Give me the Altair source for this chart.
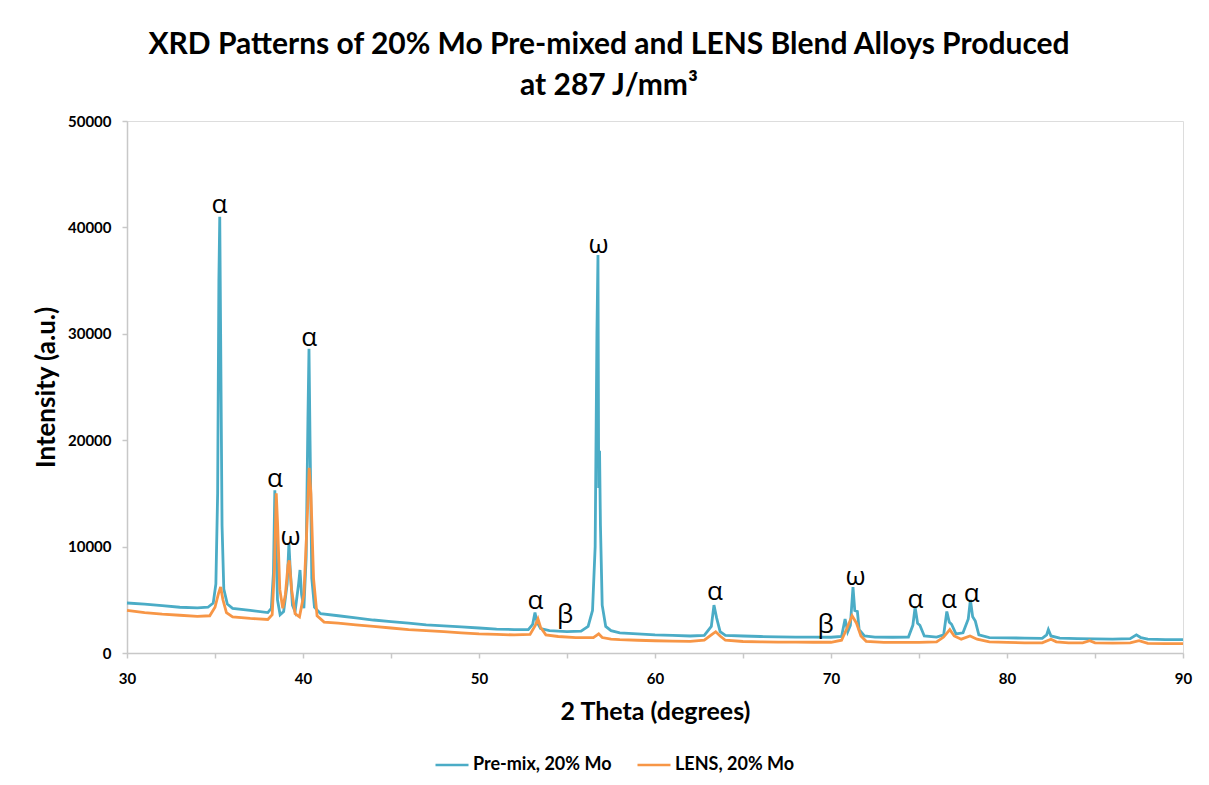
import altair as alt
import pandas as pd

# ---- data ----
premix_2theta = [30.0, 31.0, 32.0, 33.0, 34.0, 34.6, 34.9, 35.05, 35.15, 35.22, 35.27, 35.32, 35.40, 35.50, 35.70,
                 36.0, 37.0, 38.0, 38.2, 38.32, 38.40, 38.46, 38.55, 38.7, 38.9, 39.1, 39.2, 39.27, 39.4, 39.55,
                 39.75, 39.83, 39.92, 40.05, 40.18, 40.28, 40.34, 40.40, 40.50, 40.65, 41.0, 42.0, 43.0, 44.0,
                 45.0, 46.0, 47.0, 48.0, 49.0, 50.0, 51.0, 52.0, 52.8, 53.05, 53.18, 53.3, 53.5, 54.0, 55.0, 55.8,
                 56.2, 56.45, 56.6, 56.70, 56.76, 56.80, 56.85, 56.90, 57.0, 57.2, 57.5, 58.0, 59.0, 60.0, 61.0,
                 62.0, 62.8, 63.2, 63.35, 63.5, 63.7, 64.0, 65.0, 66.0, 67.0, 68.0, 69.0, 70.0, 70.6, 70.8, 70.95,
                 71.1, 71.25, 71.35, 71.5, 71.6, 71.9, 72.5, 73.5, 74.4, 74.65, 74.78, 74.92, 75.05, 75.3, 76.0,
                 76.4, 76.58, 76.72, 76.85, 77.1, 77.5, 77.8, 77.92, 78.05, 78.2, 78.4, 79.0, 80.0, 81.0, 82.0,
                 82.25, 82.35, 82.5, 83.0, 84.0, 85.0, 86.0, 87.0, 87.35, 87.6, 88.0, 89.0, 90.0]
premix_intensity = [4700, 4600, 4450, 4300, 4250, 4300, 4700, 6500, 15000, 35000, 41000, 30000, 12000, 6000, 4600,
                    4200, 4000, 3800, 4200, 7500, 15300, 11000, 5000, 3600, 3900, 6500, 10300, 8000, 4500, 3900,
                    6500, 7800, 5500, 4200, 9000, 22000, 28600, 20000, 7000, 4300, 3700, 3500, 3300, 3100,
                    2950, 2800, 2650, 2550, 2450, 2350, 2250, 2200, 2200, 2700, 3800, 2900, 2300, 2100, 2000, 2050,
                    2500, 4000, 10000, 30000, 37400, 15500, 19000, 12000, 4500, 2500, 2100, 1900, 1800, 1700, 1650,
                    1600, 1650, 2500, 4500, 3300, 2000, 1650, 1600, 1550, 1520, 1500, 1500, 1480, 1550, 3200, 2000,
                    2600, 6200, 4000, 3900, 2200, 1600, 1500, 1480, 1500, 2600, 4300, 2800, 2600, 1600, 1500,
                    1700, 3900, 2900, 2700, 1800, 1900, 3200, 5000, 3400, 3000, 1700, 1450, 1420, 1400, 1380,
                    1700, 2200, 1600, 1400, 1350, 1320, 1300, 1350, 1700, 1450, 1300, 1250, 1250]

lens_2theta = [30.0, 31.0, 32.0, 33.0, 34.0, 34.7, 35.0, 35.2, 35.32, 35.45, 35.65, 36.0, 37.0, 38.0, 38.25, 38.38,
               38.48, 38.56, 38.68, 38.85, 39.0, 39.15, 39.22, 39.35, 39.55, 39.8, 40.05, 40.2, 40.35, 40.45,
               40.6, 40.8, 41.2, 42.0, 43.0, 44.0, 45.0, 46.0, 47.0, 48.0, 49.0, 50.0, 51.0, 52.0, 52.9, 53.2,
               53.35, 53.5, 53.8, 54.5, 55.5, 56.5, 56.8, 57.0, 57.5, 58.0, 59.0, 60.0, 61.0, 62.0, 62.8, 63.2,
               63.45, 63.7, 64.0, 65.0, 66.0, 67.0, 68.0, 69.0, 70.0, 70.6, 70.9, 71.2, 71.45, 71.7, 72.0, 73.0,
               74.0, 75.0, 76.0, 76.4, 76.75, 77.0, 77.4, 77.9, 78.3, 79.0, 80.0, 81.0, 82.0, 82.5, 82.8, 83.5,
               84.3, 84.7, 85.0, 86.0, 87.0, 87.5, 88.0, 89.0, 90.0]
lens_intensity = [4000, 3800, 3650, 3550, 3450, 3500, 4300, 5600, 6200, 5000, 3800, 3400, 3250, 3150, 3600, 8000,
                  15000, 12000, 6000, 4200, 5500, 8300, 8700, 6000, 3700, 3400, 5500, 11000, 17400, 15000,
                  7000, 3500, 2900, 2800, 2650, 2500, 2350, 2200, 2100, 2000, 1900, 1800, 1750, 1700, 1750, 2600,
                  3200, 2400, 1700, 1550, 1450, 1450, 1800, 1450, 1300, 1250, 1200, 1150, 1120, 1100, 1200, 1700,
                  2000, 1600, 1200, 1080, 1050, 1030, 1020, 1010, 1010, 1200, 2300, 3500, 2800, 1600, 1100, 1000,
                  1000, 1000, 1050, 1500, 2200, 1600, 1300, 1600, 1300, 1050, 1000, 950, 950, 1300, 1050, 950,
                  950, 1150, 950, 930, 950, 1150, 900, 880, 880]

series_names = ["Pre-mix, 20% Mo", "LENS, 20% Mo"]
series_colors = ["#4bacc6", "#f79646"]

x_ticks = [30, 35, 40, 45, 50, 55, 60, 65, 70, 75, 80, 85, 90]
y_ticks = [0, 10000, 20000, 30000, 40000, 50000]

label_text = ["α", "α", "ω", "α", "α", "β", "ω", "α", "β", "ω", "α", "α", "α"]
label_2theta = [35.25, 38.4, 39.3, 40.35, 53.2, 54.9, 56.8, 63.4, 69.7, 71.4, 74.8, 76.7, 78.0]
label_intensity = [42100, 16400, 10900, 29600, 4900, 3570, 38350, 5700, 2630, 7140, 5000, 5000, 5550]

# ---- tables ----
df = pd.concat([
    pd.DataFrame({"two_theta": premix_2theta, "intensity": premix_intensity, "series": series_names[0]}),
    pd.DataFrame({"two_theta": lens_2theta, "intensity": lens_intensity, "series": series_names[1]}),
])
labels = pd.DataFrame({"two_theta": label_2theta, "intensity": label_intensity, "txt": label_text})

FONT = "Lato"
AX = "#c8c8c8"

x_enc = alt.X("two_theta:Q",
              scale=alt.Scale(domain=[30, 90], nice=False),
              axis=alt.Axis(title="2 Theta (degrees)", values=x_ticks,
                            labelExpr="datum.value % 10 == 0 ? datum.label : ''",
                            grid=False, titleFontSize=25, titleFontWeight="bold", titleFont=FONT,
                            labelFontSize=15, labelFontWeight="bold", labelFont=FONT, labelColor="black",
                            titleColor="black", domainColor=AX, tickColor=AX, tickSize=5, domainWidth=1.5,
                            tickWidth=1.5, labelPadding=13, titlePadding=13, labelOverlap=False,
                            labelFlush=False))
y_enc = alt.Y("intensity:Q",
              scale=alt.Scale(domain=[0, 50000], nice=False),
              axis=alt.Axis(title="Intensity (a.u.)", values=y_ticks,
                            format="d", grid=False, titleFontSize=26, titleFontWeight="bold", titleFont=FONT,
                            labelFontSize=15, labelFontWeight="bold", labelFont=FONT, labelColor="black",
                            titleColor="black", domainColor=AX, tickColor=AX, tickSize=5, domainWidth=1.5,
                            tickWidth=1.5, labelPadding=11, titlePadding=8, labelFlush=False))

lines = alt.Chart(df).mark_line(strokeWidth=2.8, interpolate="linear").encode(
    x=x_enc,
    y=y_enc,
    color=alt.Color("series:N",
                    scale=alt.Scale(domain=series_names, range=series_colors),
                    sort=series_names,
                    legend=alt.Legend(title=None, orient="none", legendX=307, legendY=626,
                                      direction="horizontal", symbolType="stroke", symbolSize=1089,
                                      symbolStrokeWidth=2.5, labelFontSize=18, labelFontWeight="bold",
                                      labelFont=FONT, labelColor="black", columnPadding=20, labelOffset=3)),
    detail="series:N",
)

text = alt.Chart(labels).mark_text(fontSize=26, font="Open Sans", color="black", baseline="middle",
                                   align="center").encode(
    x="two_theta:Q", y="intensity:Q", text="txt:N")

chart = alt.layer(lines, text).properties(
    width=1056, height=532,
    padding={"left": 119, "top": 113, "right": 18, "bottom": 124},
    autosize=alt.AutoSizeParams(type="none"),
    title=alt.TitleParams(
        text=["XRD Patterns of 20% Mo Pre-mixed and LENS Blend Alloys Produced", "at 287 J/mm³"],
        fontSize=30, font=FONT, fontWeight="bold", color="black", anchor="middle",
        lineHeight=41, offset=13, dx=-46),
).configure_view(stroke=None).configure(background="white")

chart.save("out.html", embed_options={"renderer": "svg", "actions": False})
